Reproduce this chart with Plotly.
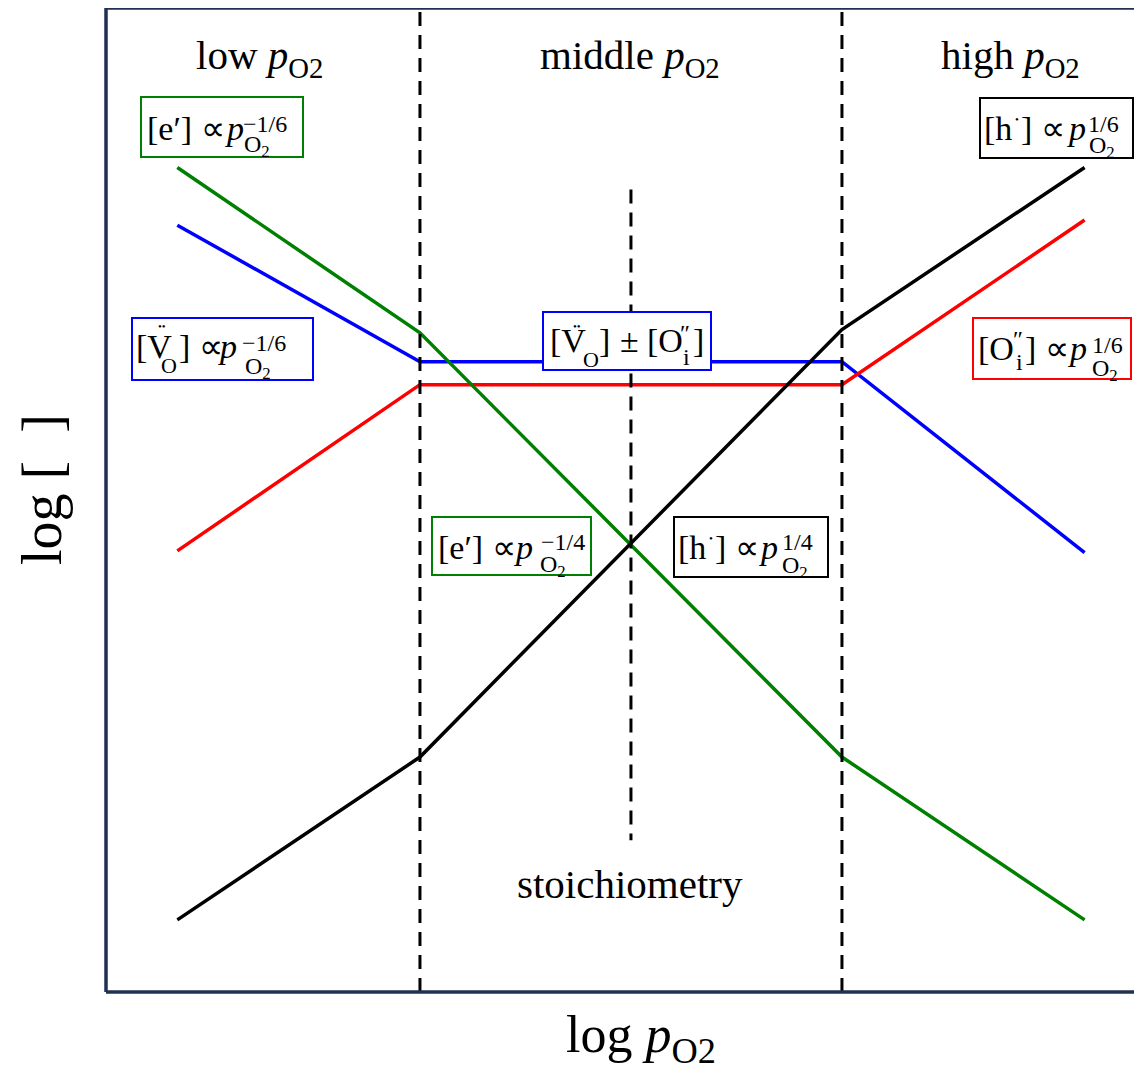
import plotly.graph_objects as go

# ---------------- data (log units) ----------------
log_pO2 = [-2.15, -1.0, 1.0, 2.15]
log_e = [0.445, 0.25, -0.25, -0.442]        # [e']
log_h = [-0.442, -0.25, 0.254, 0.445]       # [h.]
log_VO = [0.377, 0.216, 0.216, -0.009]      # [V_O..]
log_Oi = [-0.007, 0.189, 0.189, 0.383]      # [O_i'']
region_bounds = [-1.0, 1.0]
stoich_x = [0.0, 0.0]
stoich_y = [0.419, -0.348]
region_names = ["low", "middle", "high"]

X_RANGE = [-2.488, 2.422]
Y_RANGE = [-0.527, 0.633]

SERIF = "Liberation Serif"
GREEN = "#008000"
BLUE = "#0000FF"
RED = "#FF0000"
NAVY = "#1F3050"

# page offset of the figure (body margin) and plot box in page pixels
OFF = 8
W, H = 1134, 1061
ML, MR, MT, MB = 98, 0, 0, 77
PL, PT = OFF + ML, OFF + MT
PW, PH = W - ML - MR, H - MT - MB

def px(x):
    return (x - PL) / PW

def py(y):
    return (PT + PH - y) / PH

fig = go.Figure()
lw = 3.5
fig.add_trace(go.Scatter(x=log_pO2, y=log_VO, mode="lines", line=dict(color=BLUE, width=lw)))
fig.add_trace(go.Scatter(x=log_pO2, y=log_Oi, mode="lines", line=dict(color=RED, width=lw)))
fig.add_trace(go.Scatter(x=log_pO2, y=log_e, mode="lines", line=dict(color=GREEN, width=lw)))
fig.add_trace(go.Scatter(x=log_pO2, y=log_h, mode="lines", line=dict(color="black", width=lw)))
fig.add_trace(go.Scatter(x=stoich_x, y=stoich_y, mode="lines",
                         line=dict(color="black", width=3, dash="14px,9px")))

shapes = []
for b in region_bounds:
    shapes.append(dict(type="line", xref="x", yref="paper", x0=b, x1=b, y0=0, y1=1,
                       line=dict(color="black", width=3, dash="14px,9px"), layer="above"))
# frame (left, top, bottom)
for (x0, y0, x1, y1) in [(0, 0, 0, 1), (0, 1, 1, 1), (0, 0, 1, 0)]:
    shapes.append(dict(type="line", xref="paper", yref="paper", x0=x0, y0=y0, x1=x1, y1=y1,
                       line=dict(color=NAVY, width=3.5), layer="above"))

annotations = []

def txt(s, xp, yp, size, color="black", anchor="left", angle=0):
    annotations.append(dict(text=s, x=px(xp), y=py(yp), xref="paper", yref="paper",
                            xanchor=anchor, yanchor="middle", showarrow=False, textangle=angle,
                            font=dict(family=SERIF, size=size, color=color)))

def box(x0, y0, x1, y1, color):
    shapes.append(dict(type="rect", xref="paper", yref="paper",
                       x0=px(x0), x1=px(x1), y0=py(y1), y1=py(y0),
                       line=dict(color=color, width=2), fillcolor="white", layer="above"))

MAIN = 34
SMALL = 24
DOT = 11
P = "<i>p</i>"
PO2 = "O<sub>2</sub>"

# 1 green [e'] ∝ p^-1/6
box(141, 97, 303, 157, GREEN)
txt("[e′] ∝", 145, 128, MAIN)
txt(P, 223, 128, MAIN)
txt("−1/6", 241, 124, SMALL)
txt(PO2, 242, 146, SMALL)

# 2 black [h.] ∝ p^1/6
box(980, 98, 1133, 158, "black")
txt("[h", 982, 128, MAIN)
txt("•", 1013, 119, DOT)
txt("] ∝", 1019, 128, MAIN)
txt(P, 1065, 128, MAIN)
txt("1/6", 1086, 124, SMALL)
txt(PO2, 1087, 147, SMALL)

# 3 blue [V_O..] ∝ p^-1/6
box(132, 318, 313, 380, BLUE)
txt("[V", 134, 346, MAIN)
txt("••", 156, 326, DOT)
txt("O", 159, 366, 22)
txt("] ∝", 177, 346, MAIN)
txt(P, 216, 346, MAIN)
txt("−1/6", 240, 343, SMALL)
txt(PO2, 243, 368, SMALL)

# 4 blue [V_O..] ± [O_i'']
box(543, 312, 711, 370, BLUE)
txt("[V", 548, 340, MAIN)
txt("••", 571, 326, DOT)
txt("O", 581, 360, 22)
txt("]", 597, 340, MAIN)
txt("±", 618, 340, MAIN)
txt("[O", 645, 340, MAIN)
txt("″", 678, 333, SMALL)
txt("i", 681, 357, SMALL)
txt("]", 691, 340, MAIN)

# 5 red [O_i''] ∝ p^1/6
box(973, 318, 1131, 379, RED)
txt("[O", 976, 348, MAIN)
txt("″", 1011, 339, SMALL)
txt("i", 1014, 362, SMALL)
txt("] ∝", 1023, 348, MAIN)
txt(P, 1066, 348, MAIN)
txt("1/6", 1090, 345, SMALL)
txt(PO2, 1090, 370, SMALL)

# 6 green [e'] ∝ p^-1/4
box(432, 517, 591, 575, GREEN)
txt("[e′] ∝", 436, 547, MAIN)
txt(P, 512, 547, MAIN)
txt("−1/4", 539, 542, SMALL)
txt(PO2, 538, 566, SMALL)

# 7 black [h.] ∝ p^1/4
box(674, 517, 828, 577, "black")
txt("[h", 676, 547, MAIN)
txt("•", 707, 538, DOT)
txt("] ∝", 713, 547, MAIN)
txt(P, 757, 547, MAIN)
txt("1/4", 780, 542, SMALL)
txt(PO2, 780, 567, SMALL)

# region labels
for name, cx in zip(region_names, [259, 630, 1010]):
    txt(f"{name} {P}<sub>O2</sub>", cx, 58, 41, anchor="center")

txt("stoichiometry", 630, 884, 41, anchor="center")

# axis titles
txt(f"log {P}<sub>O2</sub>", 641, 1038, 52, anchor="center")
txt("log [  ]", 42, 490, 56, anchor="center", angle=-90)

fig.update_layout(
    width=W, height=H,
    margin=dict(l=ML, r=MR, t=MT, b=MB),
    plot_bgcolor="white", paper_bgcolor="white",
    showlegend=False,
    xaxis=dict(range=X_RANGE, showgrid=False, zeroline=False, showticklabels=False,
               ticks="", showline=False, fixedrange=True),
    yaxis=dict(range=Y_RANGE, showgrid=False, zeroline=False, showticklabels=False,
               ticks="", showline=False, fixedrange=True),
    shapes=shapes,
    annotations=annotations,
)

fig.write_html("out.html", config={"displayModeBar": False})
